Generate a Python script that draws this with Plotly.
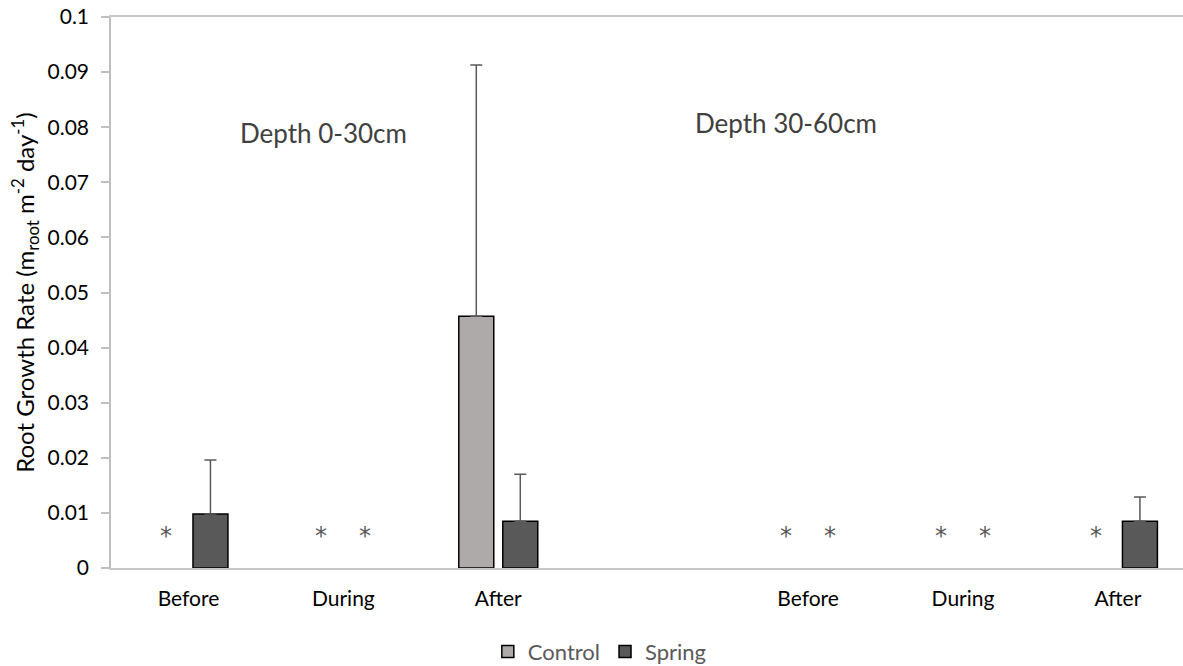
import plotly.graph_objects as go

# ---- data (None = no data, marked with *) ----
phases = ["Before", "During", "After"]
depths = ["Depth 0-30cm", "Depth 30-60cm"]
control_vals = [None, None, 0.0457, None, None, None]
control_err = [0.0, 0.0, 0.0456, 0.0, 0.0, 0.0]
spring_vals = [0.0098, None, 0.0085, None, None, 0.0085]
spring_err = [0.0098, 0.0, 0.0085, 0.0, 0.0, 0.0044]
y_ticks = [0, 0.01, 0.02, 0.03, 0.04, 0.05, 0.06, 0.07, 0.08, 0.09, 0.1]

# x positions: each depth block of 3 phases, with an empty slot between blocks
labels = [p for d in depths for p in phases]
xpos = [di * (len(phases) + 1) + pi for di in range(len(depths)) for pi in range(len(phases))]

FONT = "Lato"
TXT = 21

fig = go.Figure()
fig.add_trace(go.Bar(
    name="Control", x=xpos, y=control_vals,
    marker=dict(color="#AEAAAA", line=dict(color="#000000", width=1.5)),
    error_y=dict(type="data", array=control_err, arrayminus=[0]*len(control_err),
                 symmetric=False, color="#595959", thickness=1.5, width=6),
))
fig.add_trace(go.Bar(
    name="Spring", x=xpos, y=spring_vals,
    marker=dict(color="#595959", line=dict(color="#000000", width=1.5)),
    error_y=dict(type="data", array=spring_err, arrayminus=[0]*len(spring_err),
                 symmetric=False, color="#595959", thickness=1.5, width=6),
))

# asterisks marking missing values
slot_px = 22
for vals, sign in ((control_vals, -1), (spring_vals, 1)):
    for x, v in zip(xpos, vals):
        if v is None:
            fig.add_annotation(x=x, y=0, xref="x", yref="y", text="*",
                               showarrow=False, xshift=sign * slot_px, yshift=32,
                               font=dict(family="DejaVu Sans", size=24, color="#595959"))

# depth labels
depth_label_pos = [(0.874, 0.0789), (3.86, 0.0808)]
for d, (dx, dy) in zip(depths, depth_label_pos):
    fig.add_annotation(x=dx, y=dy, xref="x", yref="y", text=d, showarrow=False,
                       font=dict(family=FONT, size=26, color="#404040"))

fig.update_layout(
    width=1183, height=666,
    margin=dict(l=111, r=0, t=17, b=98, autoexpand=False),
    paper_bgcolor="white", plot_bgcolor="white",
    barmode="group", bargap=0.432, bargroupgap=0.205,
    font=dict(family=FONT, size=TXT, color="#000000"),
    showlegend=True,
    legend=dict(orientation="h", x=0.456, xanchor="center", y=-0.152, yanchor="middle",
                font=dict(family=FONT, size=22, color="#595959"), itemwidth=30),
    xaxis=dict(range=[-0.5, 6.42], tickvals=xpos, ticktext=labels, automargin=False,
               showline=True, mirror=True, linecolor="#C8C8C8", linewidth=1.5,
               showgrid=False, zeroline=False, ticks="", ticklabelstandoff=11,
               tickfont=dict(family=FONT, size=TXT, color="#000000")),
    yaxis=dict(range=[0, 0.1], tickvals=y_ticks, automargin=False,
               showline=True, linecolor="#BFBFBF", linewidth=1.5,
               showgrid=False, zeroline=False, ticks="outside", ticklen=8,
               tickcolor="#BFBFBF", tickwidth=1.5, ticklabelstandoff=8,
               tickfont=dict(family=FONT, size=TXT, color="#000000"),
               title=dict(text="Root Growth Rate (m<sub>root</sub> m<sup>-2</sup> day<sup>-1</sup>)",
                          font=dict(family=FONT, size=24, color="#000000"), standoff=6)),
)

fig.write_html("out.html")
